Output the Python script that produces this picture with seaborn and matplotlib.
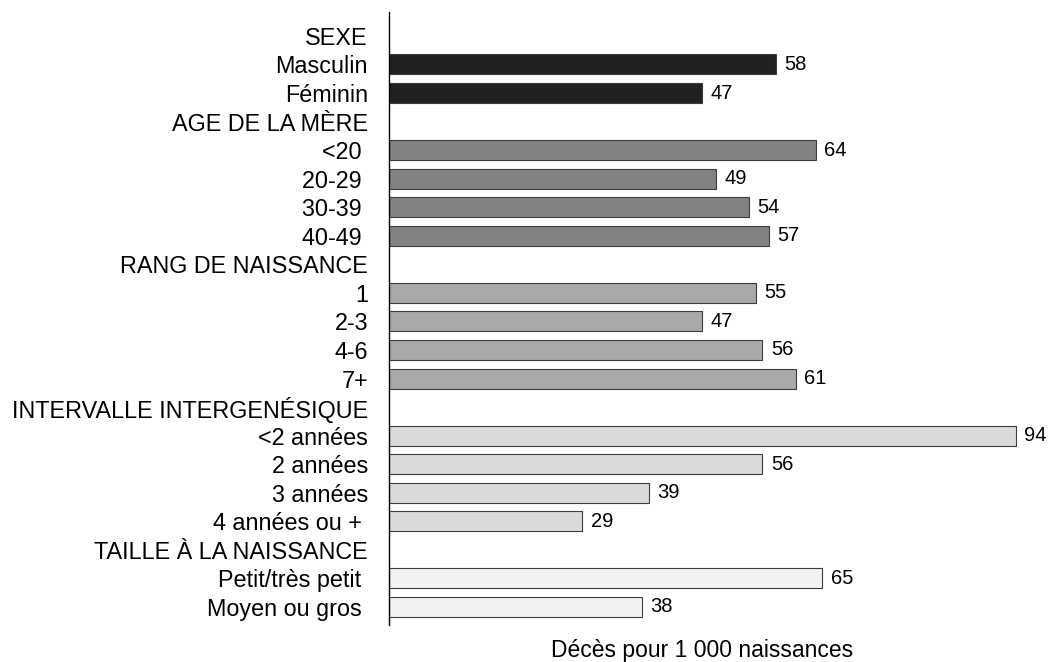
import numpy as np
import pandas as pd
import seaborn as sns
import matplotlib.pyplot as plt

# --- data ---
rows = ['SEXE', 'Masculin', 'Féminin',
        'AGE DE LA MÈRE', '<20 ', '20-29 ', '30-39 ', '40-49 ',
        'RANG DE NAISSANCE', '1', '2-3', '4-6', '7+',
        'INTERVALLE INTERGENÉSIQUE', '<2 années', '2 années', '3 années', '4 années ou + ',
        'TAILLE À LA NAISSANCE', 'Petit/très petit ', 'Moyen ou gros ']
headers = ['SEXE', 'AGE DE LA MÈRE', 'RANG DE NAISSANCE',
           'INTERVALLE INTERGENÉSIQUE', 'TAILLE À LA NAISSANCE']

sexe = [58, 47]
age_mere = [64, 49, 54, 57]
rang = [55, 47, 56, 61]
intervalle = [94, 56, 39, 29]
taille = [65, 38]

group_colors = ['#231f20', '#808285', '#a7a9ac', '#d9dadb', '#f1f2f2']

# --- build table ---
values = sexe + age_mere + rang + intervalle + taille
groups = [sexe, age_mere, rang, intervalle, taille]
labels = [r for r in rows if r not in headers]
colors = []
for g, c in zip(groups, group_colors):
    colors += [c] * len(g)

df = pd.DataFrame({'label': labels, 'value': values})
palette = dict(zip(labels, colors))

sns.set_style('white')
plt.rcParams['font.family'] = ['Liberation Sans', 'DejaVu Sans']
plt.rcParams['text.color'] = 'black'
plt.rcParams['ytick.labelcolor'] = 'black'

fig = plt.figure(figsize=(10.48, 6.62), dpi=100)
ax = fig.add_axes([0.371, 0.056, 0.629, 0.926])

sns.barplot(data=df, x='value', y='label', hue='label', order=rows,
            palette=palette, width=0.7, edgecolor='#3c3c3e', linewidth=0.8,
            legend=False, ax=ax)

for cont in ax.containers:
    ax.bar_label(cont, fmt='%d', padding=6, fontsize=14.5, color='black')

ax.set_xlim(0, 98.8)
ax.set_ylim(20.63, -0.84)
ax.set_xlabel('')
ax.set_ylabel('')
ax.set_xticks([])
ax.tick_params(axis='y', length=0, pad=15, labelsize=16.8, labelcolor='black')
for s in ['top', 'right', 'bottom']:
    ax.spines[s].set_visible(False)
ax.spines['left'].set_color('black')
ax.spines['left'].set_linewidth(1.0)

fig.text(0.67, 0.008, 'Décès pour 1 000 naissances', ha='center', va='baseline', fontsize=16.5)

plt.savefig('out.png', dpi=100)
